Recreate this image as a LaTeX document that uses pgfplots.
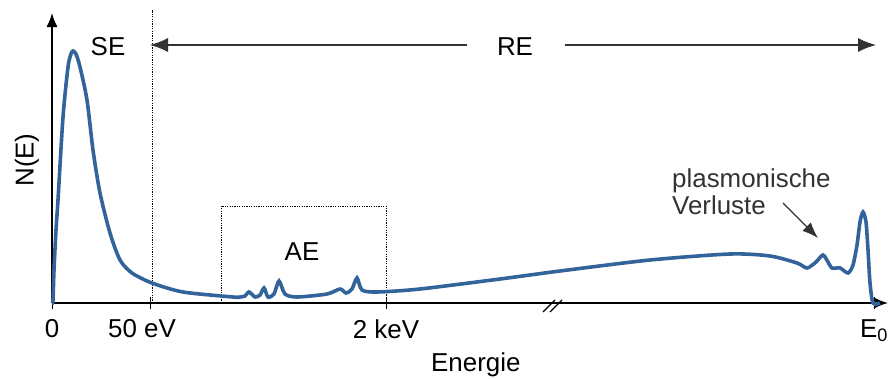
\documentclass[border=0pt]{standalone}
\usepackage{fontspec}
\setmainfont{Liberation Sans}
\usepackage{pgfplots}
\pgfplotsset{compat=1.18}
\usetikzlibrary{arrows.meta}
\definecolor{curveblue}{RGB}{50,100,155}
\definecolor{txtgray}{RGB}{51,51,51}
\begin{document}
\fontsize{26}{31}\selectfont
\begin{tikzpicture}
\begin{axis}[
  x=1bp, y=1bp,
  xmin=0, xmax=836, ymin=0, ymax=290,
  axis lines=left,
  axis line style={line width=1.3pt, -{Latex[length=14bp,width=11bp]}},
  clip=false,
  xtick={0,98,334,822},
  xticklabels={0,{50 eV\kern16bp},2 keV,E\textsubscript{0}},
  ytick=\empty,
  tick align=center,
  major tick length=12bp,
  tick style={line width=1pt, black},
  xticklabel style={font=\fontsize{26}{31}\selectfont, yshift=-2bp},
  xlabel={Energie},
  ylabel={N(E)},
  xlabel style={at={(axis description cs:0.507,-0.214)}, anchor=center, font=\fontsize{26}{31}\selectfont},
  ylabel style={at={(axis description cs:-0.030,0.493)}, anchor=center, font=\fontsize{26}{31}\selectfont},
]
\coordinate (bbA) at (axis cs:-52,-75);
\coordinate (bbB) at (axis cs:838,303);
% dotted guides
\draw[line width=0.9bp, dash pattern=on 1.2bp off 1.2bp] (axis cs:100,0) -- (axis cs:100,293);
\draw[line width=0.9bp, dash pattern=on 1.2bp off 1.2bp] (axis cs:169,0) rectangle (axis cs:334,97);
% RE arrows
\draw[line width=1.2bp, txtgray, -{Latex[length=18bp,width=14bp]}] (axis cs:415,258) -- (axis cs:98,258);
\draw[line width=1.2bp, txtgray, -{Latex[length=18bp,width=14bp]}] (axis cs:513,258) -- (axis cs:824,258);
% axis break
\draw[line width=1.2bp] (axis cs:491,-9) -- (axis cs:503,3);
\draw[line width=1.2bp] (axis cs:498,-9) -- (axis cs:510,3);
% spectrum
\addplot[curveblue, line width=3.6bp, smooth, tension=0.45] coordinates {
 (0,0) (1,3) (2,33) (4,73) (6,103) (11,186) (16,236) (19,249) (21,252) (24,249) (28,236)
 (35,203) (41,153) (48,110) (58,70) (68,43) (80,30) (100,20) (131,11) (181,6) (188,6)
 (193,7) (197,11) (203,6) (208,8) (212,15) (216,6) (222,9) (227,22) (233,9) (245,6)
 (275,9) (288,14) (294,10) (300,14) (305,25) (310,13) (325,11) (368,14) (448,24) (508,32)
 (598,43) (678,49) (718,47) (745,40) (755,35) (764,41) (771,48) (776,41) (780,35) (788,35)
 (796,30) (801,38) (805,58) (808,81) (811,91) (814,81) (816,53) (818,20) (821,0) (828,0)
};
% labels
\node at (axis cs:56,256) {SE};
\node at (axis cs:463,256) {RE};
\node at (axis cs:250,51) {AE};
\node[txtgray, anchor=base west, inner sep=0pt] at (axis cs:620,116) {plasmonische};
\node[txtgray, anchor=base west, inner sep=0pt] at (axis cs:620,89) {Verluste};
\draw[line width=1.2bp, txtgray, -{Latex[length=16bp,width=12bp]}] (axis cs:731,100) -- (axis cs:766,65);
\end{axis}
\pgfresetboundingbox
\path[use as bounding box] (bbA) rectangle (bbB);
\end{tikzpicture}
\end{document}
